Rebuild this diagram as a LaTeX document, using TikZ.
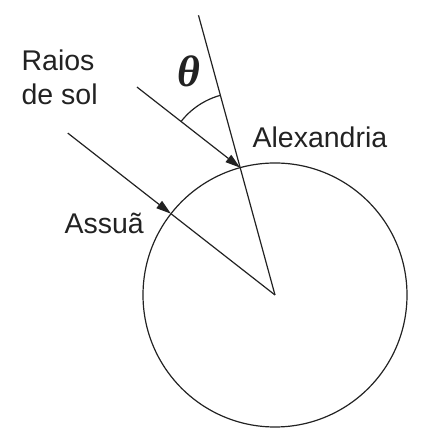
\documentclass[tikz,border=0pt]{standalone}
\usepackage{fontspec}
\setmainfont{Liberation Sans}
\newfontfamily\thetafont{Liberation Serif}
\usetikzlibrary{arrows.meta,positioning,calc}
\definecolor{ink}{HTML}{222222}
\tikzset{
	ray/.style={-{Triangle[length=15pt,width=9pt]}},
	txt/.style={inner sep=0pt,anchor=base west,align=left,text=ink,font=\fontsize{28.5}{34.5}\selectfont},
	angtxt/.style={inner sep=0pt,text=ink,font=\fontsize{44}{44}\thetafont\bfseries\itshape}
}

\begin{document}
\begin{tikzpicture}[x=1pt,y=1pt,line width=1.2pt,draw=ink]
	\useasboundingbox (0,0) rectangle (420,438);
	\node[coordinate] (ctr) at (275,143) {};
	\node[coordinate] (alex) at ($(ctr)+(105.3:132)$) {};
	\node[coordinate] (assua) at ($(ctr)+(142:132)$) {};
	\node[coordinate] (top) at ($(ctr)+(105.3:290)$) {};
	\node[coordinate] (sun1) at ($(alex)+(142:131)$) {};
	\node[coordinate] (sun2) at ($(assua)+(142:131)$) {};

	\draw (ctr) circle[radius=132];
	\draw (top) -- (ctr);
	\draw[ray] (sun1) -- (alex);
	\draw[ray] (sun2) -- (assua);
	\draw (assua) -- (ctr);
	\draw ($(alex)+(105.3:75)$) arc[start angle=105.3,end angle=142,radius=75];

	\node[angtxt] (theta) at (189,367) {θ};
	\node[txt] (raios) at (21,333) {Raios\\de sol};
	\node[txt] (alexname) at (252,290) {Alexandria};
	\node[txt] (assuaname) at (64,204) {Assuã};
\end{tikzpicture}
\end{document}
